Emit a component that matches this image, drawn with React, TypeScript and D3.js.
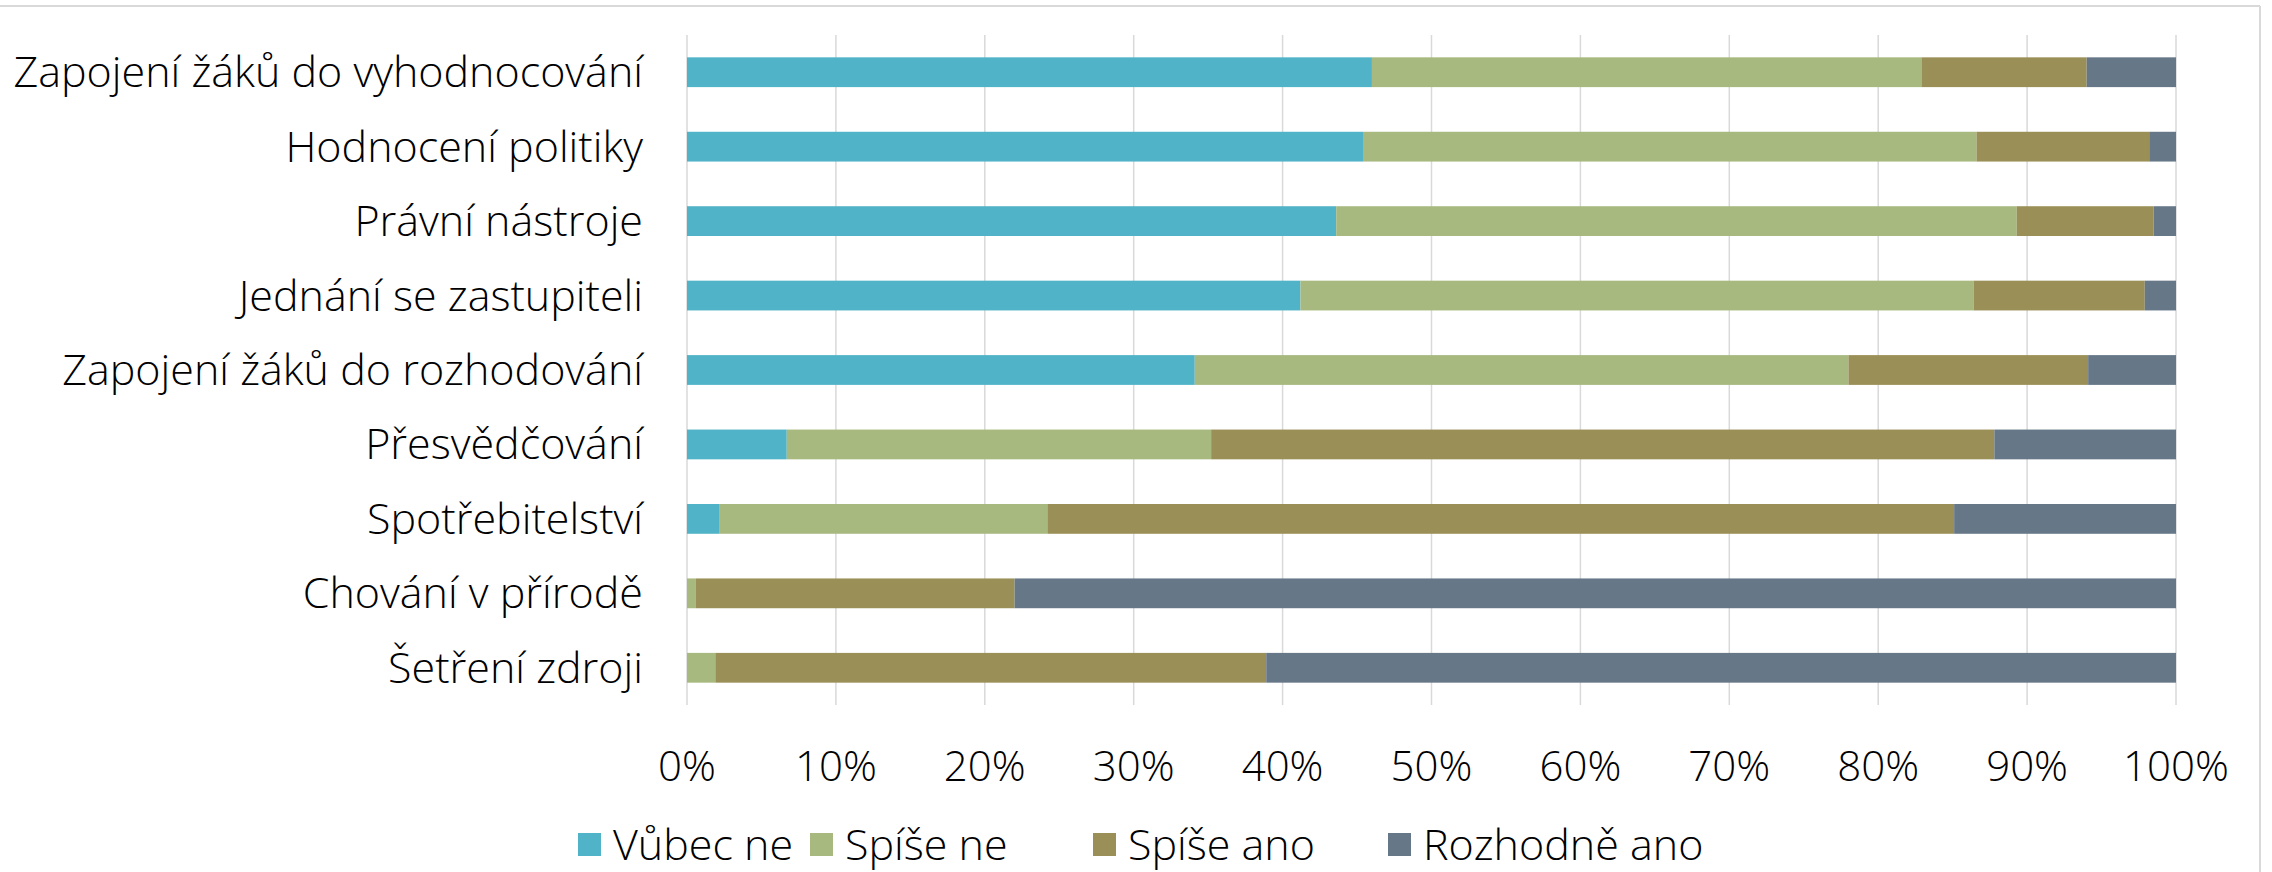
import React, { useEffect, useRef } from 'react';
import * as d3 from 'd3';

const categories = [
  'Zapojení žáků do vyhodnocování',
  'Hodnocení politiky',
  'Právní nástroje',
  'Jednání se zastupiteli',
  'Zapojení žáků do rozhodování',
  'Přesvědčování',
  'Spotřebitelství',
  'Chování v přírodě',
  'Šetření zdroji',
];

const seriesNames = ['Vůbec ne', 'Spíše ne', 'Spíše ano', 'Rozhodně ano'];
const seriesColors = ['#51b3c8', '#a7b97f', '#9a9057', '#667788'];

const vubecNe = [46.0, 45.4, 43.6, 41.2, 34.1, 6.7, 2.2, 0, 0];
const spiseNe = [36.9, 41.2, 45.7, 45.2, 43.9, 28.5, 22.0, 0.6, 1.9];
const spiseAno = [11.1, 11.6, 9.2, 11.5, 16.1, 52.6, 60.9, 21.4, 37.0];
const rozhodneAno = [6.0, 1.8, 1.5, 2.1, 5.9, 12.2, 14.9, 78.0, 61.1];

const tickValues = [0, 10, 20, 30, 40, 50, 60, 70, 80, 90, 100];

const FONT = '"Open Sans", "Noto Sans", sans-serif';

const App = () => {
  const svgRef = useRef<SVGSVGElement>(null);

  useEffect(() => {
    const svg = d3.select(svgRef.current);
    svg.selectAll('*').remove();

    const width = 2272;
    const height = 872;

    const rows = categories.map((c, i) => ({
      category: c,
      [seriesNames[0]]: vubecNe[i],
      [seriesNames[1]]: spiseNe[i],
      [seriesNames[2]]: spiseAno[i],
      [seriesNames[3]]: rozhodneAno[i],
    }));

    const stacked = d3.stack<any>().keys(seriesNames)(rows);

    const x = d3.scaleLinear().domain([0, 100]).range([687, 2176]);
    const y = d3.scaleBand()
      .domain(categories)
      .range([35, 705])
      .paddingInner(0.6)
      .paddingOuter(0.3);

    svg.attr('width', width).attr('height', height);

    // chart border (top + right visible)
    svg.append('line')
      .attr('x1', 0).attr('x2', 2260)
      .attr('y1', 6).attr('y2', 6)
      .attr('stroke', '#d9d9d9').attr('stroke-width', 2);
    svg.append('line')
      .attr('x1', 2260).attr('x2', 2260)
      .attr('y1', 6).attr('y2', height)
      .attr('stroke', '#d9d9d9').attr('stroke-width', 2);

    // gridlines
    svg.append('g')
      .selectAll('line')
      .data(tickValues)
      .enter()
      .append('line')
      .attr('x1', d => x(d)).attr('x2', d => x(d))
      .attr('y1', 35).attr('y2', 705)
      .attr('stroke', '#d9d9d9')
      .attr('stroke-width', 1.5);

    // bars
    svg.append('g')
      .selectAll('g')
      .data(stacked)
      .enter()
      .append('g')
      .attr('fill', (d, i) => seriesColors[i])
      .selectAll('rect')
      .data(d => d)
      .enter()
      .append('rect')
      .attr('x', d => x(d[0]))
      .attr('y', d => y(d.data.category))
      .attr('width', d => x(d[1]) - x(d[0]))
      .attr('height', y.bandwidth());

    // category labels
    svg.append('g')
      .selectAll('text')
      .data(categories)
      .enter()
      .append('text')
      .attr('x', 643)
      .attr('y', d => y(d) + y.bandwidth() / 2)
      .attr('dy', '0.35em')
      .attr('text-anchor', 'end')
      .style('font-family', FONT)
      .style('font-weight', 300)
      .style('font-size', '43px')
      .style('fill', '#000')
      .text(d => d);

    // x tick labels
    svg.append('g')
      .selectAll('text')
      .data(tickValues)
      .enter()
      .append('text')
      .attr('x', d => x(d))
      .attr('y', 781)
      .attr('text-anchor', 'middle')
      .style('font-family', FONT)
      .style('font-weight', 300)
      .style('font-size', '42px')
      .style('fill', '#000')
      .text(d => `${d}%`);

    // legend
    const legendX = [578, 810, 1093, 1388];
    const legend = svg.append('g');
    seriesNames.forEach((name, i) => {
      legend.append('rect')
        .attr('x', legendX[i])
        .attr('y', 833)
        .attr('width', 23)
        .attr('height', 23)
        .attr('fill', seriesColors[i]);
      legend.append('text')
        .attr('x', legendX[i] + 35)
        .attr('y', 845)
        .attr('dy', '0.35em')
        .style('font-family', FONT)
        .style('font-weight', 300)
        .style('font-size', '43px')
        .style('fill', '#000')
        .text(name);
    });
  }, []);

  return (
    <div style={{ position: 'absolute', left: 0, top: 0 }}>
      <svg ref={svgRef}></svg>
    </div>
  );
};

export default App;
